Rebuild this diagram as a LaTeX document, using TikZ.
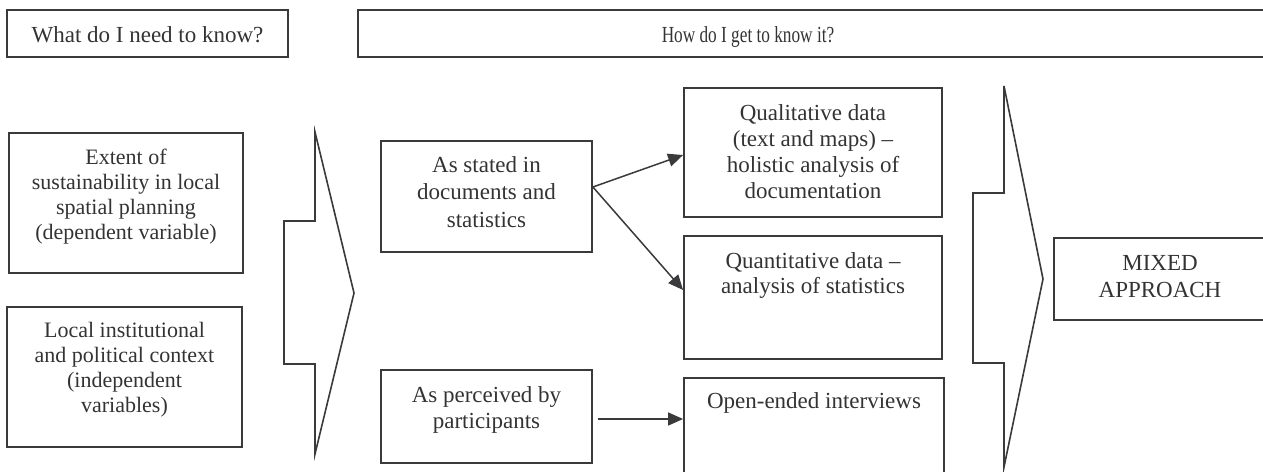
\documentclass[tikz,border=0pt]{standalone}
\usepackage{fontspec}
\setmainfont{Liberation Serif}
\newfontfamily\narrowserif[FakeStretch=0.75]{Liberation Serif}
\usetikzlibrary{arrows.meta,calc}
\definecolor{ink}{HTML}{333333}
\definecolor{edge}{HTML}{3A3A3C}
\begin{document}
\begin{tikzpicture}[x=1pt,y=-1pt,
  box/.style={draw=edge,line width=1.8pt,rectangle,inner sep=0pt},
  txt/.style={text=ink,font=\fontsize{23}{#1}\selectfont,align=center,inner sep=0pt,anchor=north},
  txt/.default=26,
  smalltxt/.style={text=ink,font=\fontsize{22}{#1}\selectfont,align=center,inner sep=0pt,anchor=north},
  headtxt/.style={text=ink,font=\fontsize{23}{26}\selectfont,inner sep=0pt,anchor=base},
  bigarrow/.style={draw=edge,line width=1.6pt,line join=miter},
  conn/.style={draw=edge,line width=1.5pt,-{Triangle[length=15pt,width=13pt]}}]
\useasboundingbox (0,0) rectangle (1263,471);
\clip (0,0) rectangle (1263,471);

% header boxes
\node[box,minimum width=281pt,minimum height=47pt] (what) at (147.5,33.5) {};
\node[headtxt] (whatT) at (147.5,42.5) {What do I need to know?};
\node[box,minimum width=912pt,minimum height=47pt] (how) at (814,33.5) {};
\node[headtxt,font=\narrowserif\fontsize{23}{26}\selectfont] (howT) at (748,42.5) {How do I get to know it?};

% left boxes
\node[box,minimum width=234pt,minimum height=140pt] (dep) at (126,203) {};
\node[smalltxt=25] (depT) at (126,149) {Extent of\\sustainability in local\\spatial planning\\(dependent variable)};
\node[box,minimum width=235pt,minimum height=140pt] (ind) at (124.5,377) {};
\node[smalltxt=25] (indT) at (124.5,322) {Local institutional\\and political context\\(independent\\variables)};

% big arrow 1
\draw[bigarrow] (284,221) -- (315,221) -- (315,132) -- (354,293) -- (315,454) -- (315,364) -- (284,364) -- cycle;

% middle boxes
\node[box,minimum width=211pt,minimum height=111pt] (stated) at (486.5,196.5) {};
\node[txt=27.5] (statedT) at (486.5,156.3) {As stated in\\documents and\\statistics};
\node[box,minimum width=211pt,minimum height=93pt] (perc) at (486.5,416.5) {};
\node[txt=26] (percT) at (486.5,386.3) {As perceived by\\participants};

% right boxes
\node[box,minimum width=258pt,minimum height=129pt] (qual) at (813,152.5) {};
\node[txt=26] (qualT) at (813,104.3) {Qualitative data\\(text and maps) --\\holistic analysis of\\documentation};
\node[box,minimum width=258pt,minimum height=123pt] (quant) at (813,297.5) {};
\node[txt=25] (quantT) at (813,252.3) {Quantitative data --\\analysis of statistics};
\node[box,minimum width=260pt,minimum height=102pt] (open) at (814,429) {};
\node[txt=26] (openT) at (814,392.3) {Open-ended interviews};

% big arrow 2
\draw[bigarrow] (973,193) -- (1004,193) -- (1004,86) -- (1043,279) -- (1004,467) -- (1004,363) -- (973,363) -- cycle;

% mixed
\node[box,minimum width=216pt,minimum height=82pt] (mixed) at (1162,279) {};
\node[txt=27] (mixedT) at (1160,255) {MIXED\\APPROACH};

% connectors
\coordinate (fork) at ($(stated.east)+(0,-9.5)$);
\coordinate (qualin) at ($(qual.west)+(0,2.5)$);
\coordinate (quantin) at ($(quant.west)+(0,-7.5)$);
\coordinate (pstart) at ($(perc.east)+(5,2.5)$);
\draw[conn] (fork) -- (qualin);
\draw[conn] (fork) -- (quantin);
\draw[conn] (pstart) -- (pstart -| open.west);
\end{tikzpicture}
\end{document}
